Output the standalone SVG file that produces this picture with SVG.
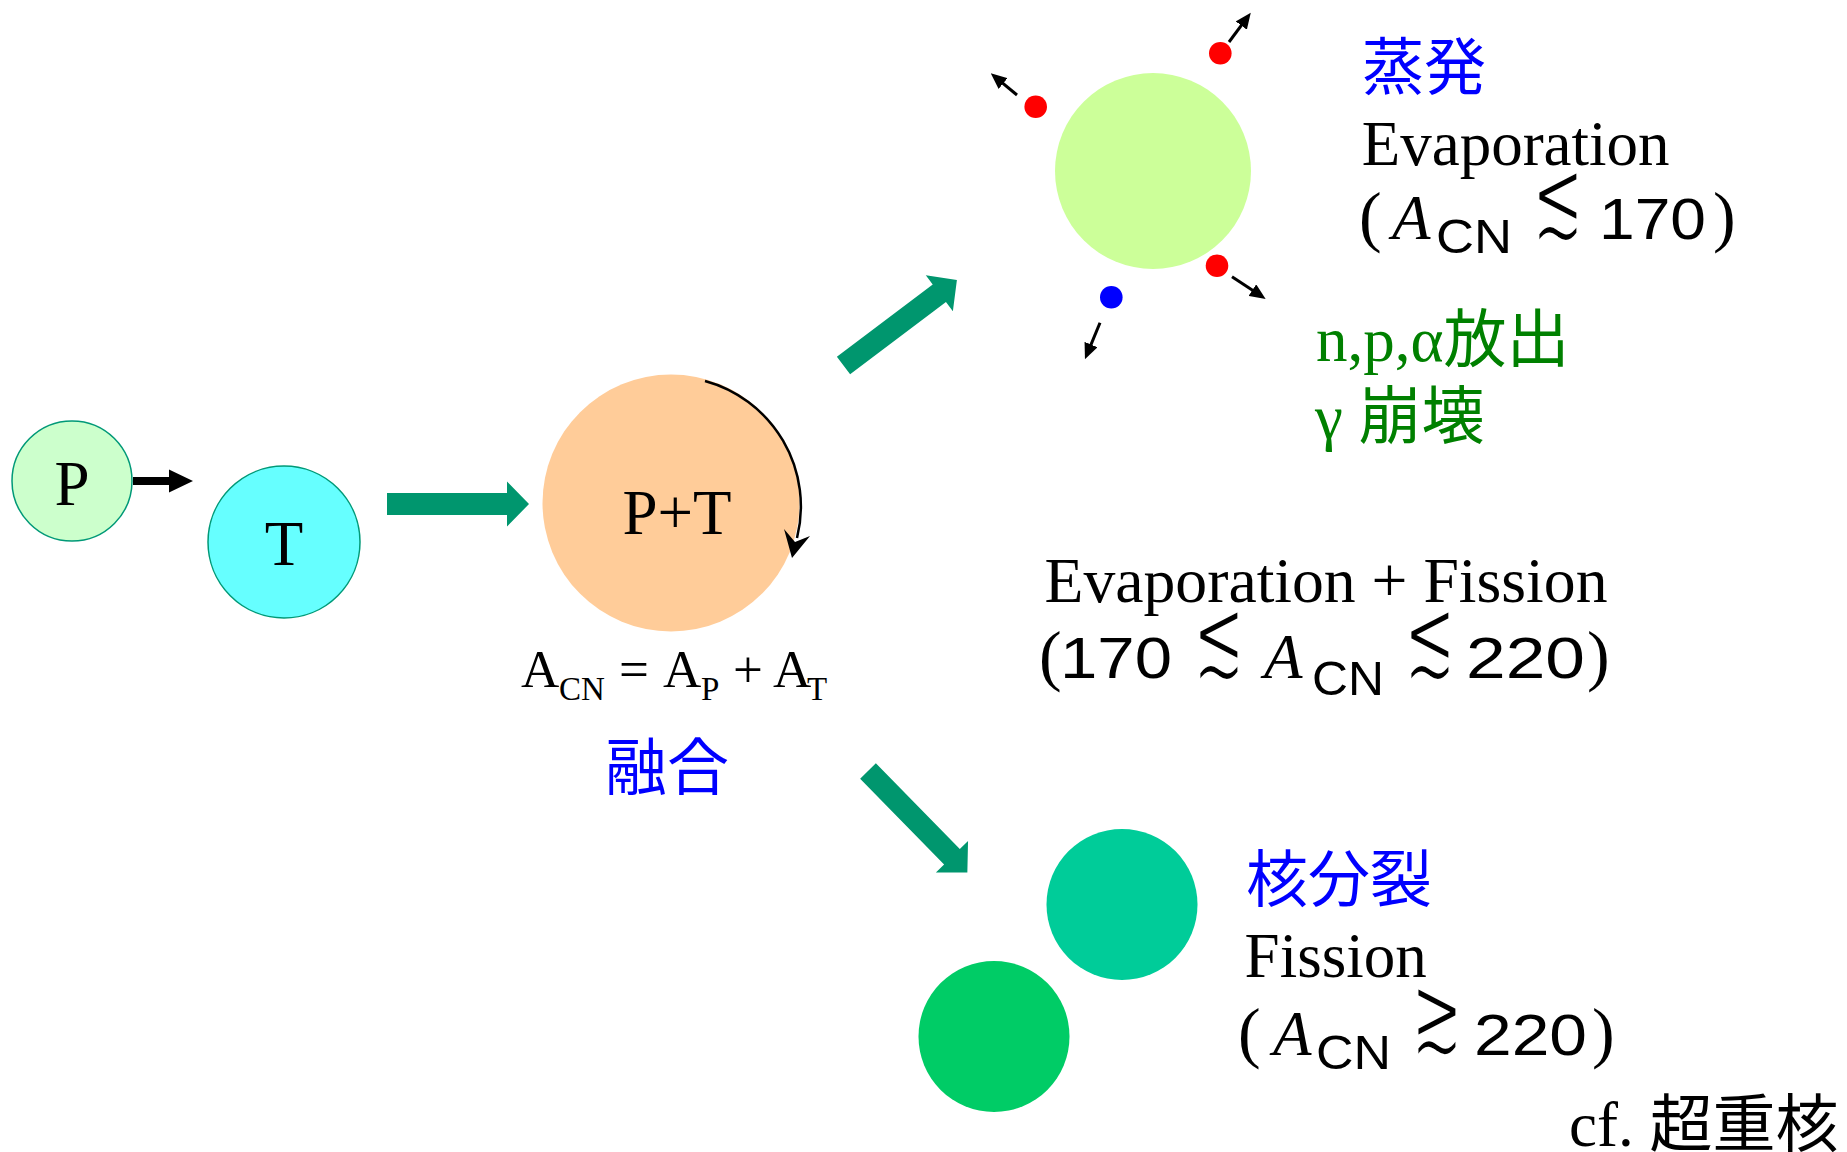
<svg xmlns="http://www.w3.org/2000/svg" xmlns:xlink="http://www.w3.org/1999/xlink" width="1847" height="1152" viewBox="0 0 1847 1152">
  <style>
    .serif { font-family: "Liberation Serif", "Noto Sans CJK JP", serif; }
    .cjk { font-family: "Noto Sans CJK JP", sans-serif; }
    .it { font-family: "Liberation Serif", serif; font-style: italic; }
    .sans { font-family: "Liberation Sans", sans-serif; }
    .rel { font-family: "DejaVu Sans", sans-serif; font-size: 80px; text-anchor: middle; fill: #000; stroke: #fff; stroke-width: 2.6px; }
    .blue { fill: #0000ff; }
    .green { fill: #008000; }
    .ink { fill: #000000; }
    .fat { fill: #00966e; }
    .nucleon { stroke: #000; stroke-width: 3; fill: none; marker-end: url(#tip); }
  </style>
  <defs>
    <polygon id="fatArrow" class="fat" points="0,-11 120,-11 120,-22.5 142,0 120,22.5 120,11 0,11"/>
    <marker id="tip" markerUnits="userSpaceOnUse" viewBox="0 0 16 14" refX="8" refY="7" markerWidth="16" markerHeight="14" orient="auto">
      <path d="M0,0 L16,7 L0,14 z" fill="#000"/>
    </marker>
  </defs>

  <rect width="1847" height="1152" fill="#ffffff"/>

  <!-- connectors between stages -->
  <g id="connectors">
    <polygon points="133,477 169,477 169,469.5 193,481 169,492.5 169,485 133,485" fill="#000"/>
    <use xlink:href="#fatArrow" transform="translate(387,504)"/>
    <use xlink:href="#fatArrow" transform="translate(843.5,365.5) rotate(-37)"/>
    <use xlink:href="#fatArrow" transform="translate(868,771) rotate(45.6)"/>
  </g>

  <!-- projectile -->
  <g id="projectile">
    <circle cx="72" cy="481" r="60" fill="#ccffcc" stroke="#009977" stroke-width="1.5"/>
    <text class="serif ink" x="72" y="505" font-size="63" text-anchor="middle">P</text>
  </g>

  <!-- target -->
  <g id="target">
    <circle cx="284" cy="542" r="76" fill="#66ffff" stroke="#009977" stroke-width="1.5"/>
    <text class="serif ink" x="284" y="565" font-size="63" text-anchor="middle">T</text>
  </g>

  <!-- compound nucleus -->
  <g id="compound">
    <circle cx="671" cy="503" r="128.5" fill="#ffcc99"/>
    <path d="M705,381 A130,130 0 0 1 797,538" fill="none" stroke="#000" stroke-width="2.5"/>
    <polygon points="792,558 784,529 795,542 810,536" fill="#000"/>
    <text class="serif ink" x="677" y="534" font-size="63" text-anchor="middle">P+T</text>
    <text class="serif ink" font-size="53">
      <tspan x="521" y="686.7">A</tspan><tspan x="559" y="700" font-size="33">CN</tspan><tspan x="619" y="686.7">=</tspan><tspan x="663" y="686.7">A</tspan><tspan x="701" y="700" font-size="33">P</tspan><tspan x="733" y="686.7">+</tspan><tspan x="773" y="686.7">A</tspan><tspan x="807" y="700" font-size="33">T</tspan>
    </text>
    <text class="cjk blue" x="667" y="790" font-size="62" text-anchor="middle">融合</text>
  </g>

  <!-- evaporation residue with emitted particles -->
  <g id="evaporation">
    <circle cx="1153" cy="171" r="98" fill="#ccff99"/>
    <circle cx="1220.3" cy="53.3" r="11.3" fill="#ff0000"/>
    <circle cx="1035.7" cy="106.7" r="11.3" fill="#ff0000"/>
    <circle cx="1217" cy="265.7" r="11.3" fill="#ff0000"/>
    <circle cx="1111.3" cy="297.3" r="11.3" fill="#0000ff"/>
    <line class="nucleon" x1="1229" y1="42" x2="1246" y2="19.1"/>
    <line class="nucleon" x1="1017" y1="95" x2="996.9" y2="78.4"/>
    <line class="nucleon" x1="1232" y1="276.7" x2="1259" y2="294.6"/>
    <line class="nucleon" x1="1100" y1="322.7" x2="1088" y2="351.9"/>
  </g>

  <!-- evaporation labels -->
  <g id="evaporation-label">
    <text class="cjk blue" x="1362" y="90" font-size="62">蒸発</text>
    <text class="serif ink" x="1361.7" y="165" font-size="63">Evaporation</text>
    <text class="ink" font-size="63">
      <tspan class="serif" x="1359" y="239" font-size="68">(</tspan><tspan class="it" x="1392" y="239">A</tspan><tspan class="sans" x="1436" y="253" font-size="48" textLength="76" lengthAdjust="spacingAndGlyphs">CN</tspan><tspan class="sans" x="1599" y="239" font-size="58" textLength="107" lengthAdjust="spacingAndGlyphs">170</tspan><tspan class="serif" x="1713" y="239" font-size="68">)</tspan>
    </text>
    <text class="rel" transform="translate(1558,237) scale(0.78,1.42)">≲</text>
    <text class="serif green" font-size="63">
      <tspan x="1316" y="360.7">n,p,α放出</tspan>
      <tspan x="1315" y="438">γ 崩壊</tspan>
    </text>
  </g>

  <!-- intermediate mass range -->
  <g id="mixed-label">
    <text class="serif ink" x="1044.5" y="601.7" font-size="63" textLength="563" lengthAdjust="spacingAndGlyphs">Evaporation + Fission</text>
    <text class="ink" font-size="63">
      <tspan class="serif" x="1039" y="678" font-size="68">(</tspan><tspan class="sans" x="1060" y="678" font-size="58" textLength="112" lengthAdjust="spacingAndGlyphs">170</tspan><tspan class="it" x="1264" y="678">A</tspan><tspan class="sans" x="1312" y="695" font-size="48" textLength="72" lengthAdjust="spacingAndGlyphs">CN</tspan><tspan class="sans" x="1466" y="678" font-size="58" textLength="119" lengthAdjust="spacingAndGlyphs">220</tspan><tspan class="serif" x="1587" y="678" font-size="68">)</tspan>
    </text>
    <text class="rel" transform="translate(1219,676) scale(0.78,1.42)">≲</text>
    <text class="rel" transform="translate(1430,676) scale(0.78,1.42)">≲</text>
  </g>

  <!-- fission fragments -->
  <g id="fission">
    <circle cx="1122" cy="904.5" r="75.5" fill="#00cc99"/>
    <circle cx="994" cy="1036.5" r="75.5" fill="#00cc66"/>
  </g>

  <!-- fission labels -->
  <g id="fission-label">
    <text class="cjk blue" x="1246" y="902" font-size="62">核分裂</text>
    <text class="serif ink" x="1244.6" y="977" font-size="63">Fission</text>
    <text class="ink" font-size="63">
      <tspan class="serif" x="1238" y="1055" font-size="68">(</tspan><tspan class="it" x="1273" y="1055">A</tspan><tspan class="sans" x="1316" y="1069" font-size="48" textLength="75" lengthAdjust="spacingAndGlyphs">CN</tspan><tspan class="sans" x="1474" y="1055" font-size="58" textLength="113" lengthAdjust="spacingAndGlyphs">220</tspan><tspan class="serif" x="1592" y="1055" font-size="68">)</tspan>
    </text>
    <text class="rel" transform="translate(1437,1053) scale(0.78,1.42)">≳</text>
    <text class="serif ink" x="1569" y="1146" font-size="63">cf. 超重核</text>
  </g>
</svg>
